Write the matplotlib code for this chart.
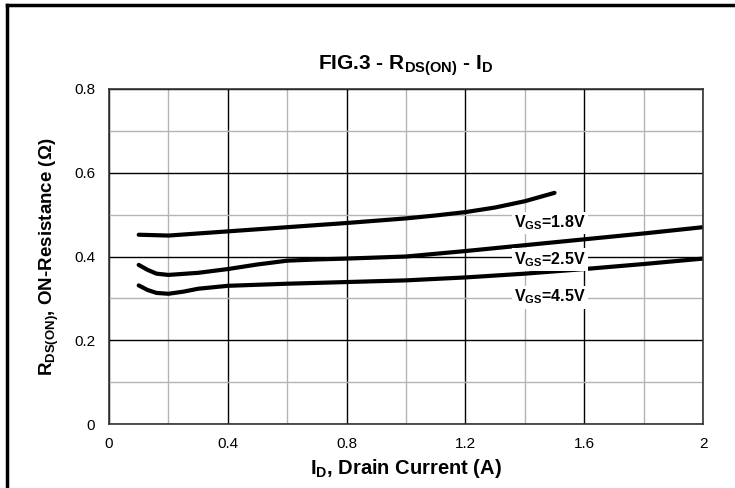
import numpy as np
import matplotlib
matplotlib.use("Agg")
import matplotlib.pyplot as plt
from matplotlib.lines import Line2D

plt.rcParams['font.family'] = ['Liberation Sans', 'DejaVu Sans']
plt.rcParams['mathtext.fontset'] = 'custom'
plt.rcParams['mathtext.rm'] = 'Liberation Sans:bold'
plt.rcParams['mathtext.bf'] = 'Liberation Sans:bold'

# Drain current (A) vs on-resistance (ohm), one pair of lists per gate voltage
id_18 = [0.1, 0.2, 0.3, 0.4, 0.6, 0.8, 1.0, 1.1, 1.2, 1.3, 1.4, 1.5]
r_18 = [0.452, 0.450, 0.455, 0.460, 0.470, 0.480, 0.491, 0.498, 0.506, 0.517, 0.532, 0.552]

id_25 = [0.1, 0.13, 0.16, 0.2, 0.3, 0.4, 0.5, 0.6, 0.7, 0.8, 1.0, 1.2, 1.4, 1.6, 1.8, 2.0]
r_25 = [0.380, 0.368, 0.359, 0.356, 0.361, 0.370, 0.381, 0.390, 0.393, 0.395, 0.400, 0.413, 0.427, 0.441, 0.455, 0.470]

id_45 = [0.1, 0.13, 0.16, 0.2, 0.25, 0.3, 0.4, 0.6, 0.8, 1.0, 1.2, 1.4, 1.6, 1.8, 2.0]
r_45 = [0.331, 0.320, 0.313, 0.311, 0.316, 0.323, 0.330, 0.335, 0.339, 0.343, 0.350, 0.359, 0.370, 0.382, 0.395]

labels = ['1.8V', '2.5V', '4.5V']
label_x = [1.485, 1.485, 1.485]
label_y = [0.480, 0.392, 0.303]

fig = plt.figure(figsize=(7.35, 4.88), dpi=100)
ax = fig.add_axes([109/735, 1 - 424/488, (703 - 109)/735, (424 - 89)/488])

ax.set_xlim(0, 2)
ax.set_ylim(0, 0.8)
ax.set_xticks([0, 0.4, 0.8, 1.2, 1.6, 2])
ax.set_xticklabels(['0', '0.4', '0.8', '1.2', '1.6', '2'])
ax.set_yticks([0, 0.2, 0.4, 0.6, 0.8])
ax.set_yticklabels(['0', '0.2', '0.4', '0.6', '0.8'])
ax.set_xticks(np.arange(0.2, 2.0, 0.4), minor=True)
ax.set_yticks(np.arange(0.1, 0.8, 0.2), minor=True)
ax.tick_params(which='both', length=0, labelsize=11, colors='black')
ax.tick_params(axis='x', pad=9)
ax.tick_params(axis='y', pad=10)
ax.grid(which='major', color='black', linewidth=1.0)
ax.grid(which='minor', color='#b4b4b4', linewidth=1.0)
ax.set_axisbelow(True)
for s in ax.spines.values():
    s.set_linewidth(1.2)
    s.set_color('#333333')

for x, y in [(id_18, r_18), (id_25, r_25), (id_45, r_45)]:
    ax.plot(x, y, color='black', linewidth=3.0, solid_capstyle='round',
            solid_joinstyle='round')

for t, x, y in zip(labels, label_x, label_y):
    ax.text(x, y, r'V$_{\mathrm{GS}}$=' + t, ha='center', va='center', fontsize=11.5,
            fontweight='bold', bbox=dict(facecolor='white', edgecolor='none', pad=1.5))

ax.set_title(r'FIG.3 - R$_{\mathrm{DS(ON)}}$ - I$_{\mathrm{D}}$', fontsize=15,
             fontweight='bold', pad=14)
ax.set_xlabel(r'I$_{\mathrm{D}}$, Drain Current (A)', fontsize=14.5, fontweight='bold', labelpad=5)
ax.set_ylabel(r'R$_{\mathrm{DS(ON)}}$, ON-Resistance ($\Omega$)', fontsize=13.5,
              fontweight='bold', labelpad=9)

# outer frame (left and top)
fig.add_artist(Line2D([7.5/735, 7.5/735], [0, 1 - 5/488], transform=fig.transFigure,
                      color='black', linewidth=2.5))
fig.add_artist(Line2D([6.5/735, 1], [1 - 5/488, 1 - 5/488], transform=fig.transFigure,
                      color='black', linewidth=2.5))

fig.savefig('out.png', dpi=100)
